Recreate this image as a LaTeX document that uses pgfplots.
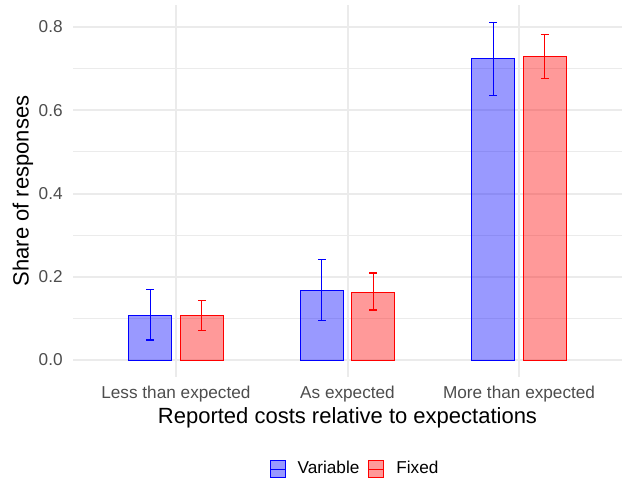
\documentclass[border=0pt]{standalone}
\usepackage{pgfplots}
\pgfplotsset{compat=1.18}
\usepackage{fontspec}
\setmainfont{Liberation Sans}
\definecolor{gridc}{HTML}{EBEBEB}
\definecolor{tickc}{HTML}{4D4D4D}
\begin{document}
\begin{tikzpicture}
\path[use as bounding box] (-36.5pt,-53.5pt) rectangle (276pt,188.5pt);
\begin{axis}[
  at={(0,0)}, anchor=south west,
  scale only axis, width=274.5pt, height=186pt,
  xmin=0.4, xmax=3.6, ymin=-0.0408, ymax=0.853,
  xtick={1,2,3},
  xticklabels={Less than expected, As expected, More than expected},
  ytick={0,0.2,0.4,0.6,0.8},
  yticklabels={0.0,0.2,0.4,0.6,0.8},
  minor ytick={0.1,0.3,0.5,0.7},
  xmajorgrids=true, ymajorgrids=true, yminorgrids=true,
  major grid style={gridc, line width=1pt},
  minor grid style={gridc, line width=0.5pt},
  axis line style={draw=none},
  major tick length=0pt, minor tick length=0pt,
  tick style={draw=none},
  xticklabel style={anchor=base, yshift=-10.85pt, font=\fontsize{8.6}{10}\selectfont, text=tickc},
  yticklabel style={anchor=east, inner sep=0pt, xshift=-5pt, font=\fontsize{8.6}{10}\selectfont, text=tickc},
  xlabel={Reported costs relative to expectations},
  xlabel style={at={(axis description cs:0.5,-0.1245)}, anchor=base, font=\fontsize{11}{13}\selectfont},
  ylabel={Share of responses},
  ylabel style={at={(axis description cs:-0.0809,0.5)}, anchor=base, rotate=0, font=\fontsize{11}{13}\selectfont},
  legend columns=-1,
  legend style={at={(axis description cs:0.5155,-0.2473)}, anchor=center, draw=none, fill=none,
    font=\fontsize{8.6}{10}\selectfont,
    /tikz/every odd column/.append style={column sep=4pt},
    /tikz/every even column/.append style={column sep=2.5pt}},
]
\addlegendimage{legend image code/.code={
  \draw[draw=blue, fill=blue, fill opacity=0.4, line width=0.5pt] (0pt,-4.15pt) rectangle (7.5pt,4.15pt);
  \draw[blue, line width=0.5pt] (0pt,0pt) -- (7.5pt,0pt);}}
\addlegendentry{Variable}
\addlegendimage{legend image code/.code={
  \draw[draw=red, fill=red, fill opacity=0.4, line width=0.5pt] (0pt,-4.15pt) rectangle (7.5pt,4.15pt);
  \draw[red, line width=0.5pt] (0pt,0pt) -- (7.5pt,0pt);}}
\addlegendentry{Fixed}

% Variable
\addplot[forget plot, ybar, bar width=0.25, bar shift=0pt, draw=blue, fill=blue, fill opacity=0.4, line width=0.5pt,
  error bars/.cd, y dir=both, y explicit, error mark=|,
  error bar style={line width=0.6pt, blue},
  error mark options={blue, mark size=1.93pt, line width=0.6pt}]
coordinates {
  (0.85,0.108) += (0,0.062) -= (0,0.060)
  (1.85,0.168) += (0,0.074) -= (0,0.073)
  (2.85,0.724) += (0,0.087) -= (0,0.088)
};
% Fixed
\addplot[forget plot, ybar, bar width=0.25, bar shift=0pt, draw=red, fill=red, fill opacity=0.4, line width=0.5pt,
  error bars/.cd, y dir=both, y explicit, error mark=|,
  error bar style={line width=0.6pt, red},
  error mark options={red, mark size=1.93pt, line width=0.6pt}]
coordinates {
  (1.15,0.107) += (0,0.036) -= (0,0.036)
  (2.15,0.163) += (0,0.046) -= (0,0.043)
  (3.15,0.730) += (0,0.052) -= (0,0.053)
};
\end{axis}
\end{tikzpicture}
\end{document}
